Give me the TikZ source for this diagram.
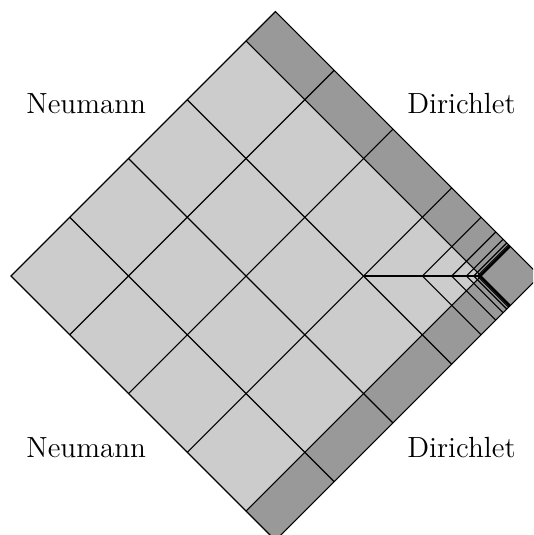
\documentclass[tikz,border=0pt]{standalone}
\tikzset{
  mesh/.style={line width=0.5pt},
  label text/.style={inner sep=0pt,anchor=base west,font=\fontsize{12.9}{15}\selectfont}
}
\definecolor{innergray}{gray}{0.8}
\definecolor{stripgray}{gray}{0.6}
\begin{document}
\begin{tikzpicture}[x={(26pt,26pt)},y={(26pt,-26pt)}]
  \useasboundingbox (-4.87pt,-114.6pt) rectangle (230.99pt,122.13pt);
  \clip (-4.87pt,-114.6pt) rectangle (230.99pt,122.13pt);

  \coordinate (L) at (0,0);
  \coordinate (T) at (4.5,0);
  \coordinate (R) at (4.5,4.5);
  \coordinate (B) at (0,4.5);
  \coordinate (S) at (4,4);

  \fill[stripgray] (L) -- (T) -- (R) -- (B) -- cycle;
  \fill[innergray] (L) -- (4,0) -- (S) -- (0,4) -- cycle;

  % full lines
  \foreach \t in {1,2,3,4} {
    \draw[mesh] (\t,0) -- (\t,4.5);
    \draw[mesh] (0,\t) -- (4.5,\t);
  }
  % graded towards the corner
  \foreach \t in {3.5,3.75,3.875,3.9375,3.96875,3.984375,3.9921875} {
    \draw[mesh] (\t,\t) -- (\t,4.5);
    \draw[mesh] (\t,\t) -- (4.5,\t);
  }
  \draw[mesh] (3,3) -- (S);
  \draw[mesh] (L) -- (T) -- (R) -- (B) -- cycle;

  \node[label text] (NT) at (6.6pt,71.7pt) {Neumann};
  \node[label text] (DT) at (175.2pt,71.7pt) {Dirichlet};
  \node[label text] (NB) at (6.6pt,-80.5pt) {Neumann};
  \node[label text] (DB) at (175.2pt,-80.5pt) {Dirichlet};
\end{tikzpicture}
\end{document}
